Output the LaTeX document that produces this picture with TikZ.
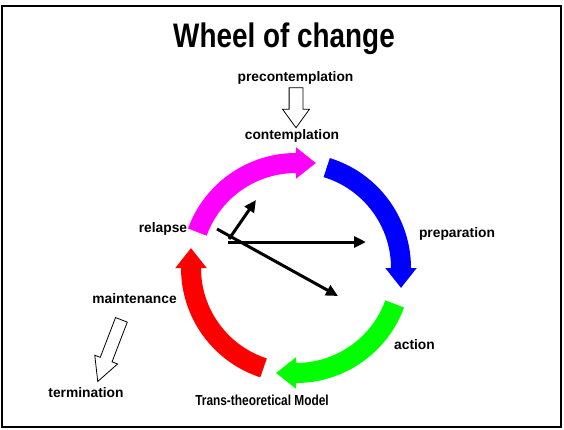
\documentclass[tikz,border=0pt]{standalone}
\usepackage{fontspec}
\setmainfont{Liberation Sans}
\newfontfamily\narrowfont[FakeStretch=0.82]{Liberation Sans}
\usetikzlibrary{arrows.meta,shapes.arrows,positioning}
\definecolor{wheelmagenta}{RGB}{255,0,255}
\definecolor{wheelblue}{RGB}{0,0,255}
\definecolor{wheelgreen}{RGB}{0,255,0}
\definecolor{wheelred}{RGB}{255,0,0}

\begin{document}
\begin{tikzpicture}[x=1pt,y=1pt,
                stagelabel/.style={font=\fontsize{13.8}{16}\selectfont\bfseries, inner sep=0pt, anchor=base},
                wheelarc/.style={line width=20pt, -{Triangle[width=30pt,length=20pt]}},
                pointer/.style={line width=3pt, -{Triangle[width=11pt,length=12pt]}},
                hollowarrow/.style={single arrow, draw, line width=0.8pt, inner xsep=0pt}]
                \useasboundingbox (0,0) rectangle (564,-429);
                \draw [black, line width=2pt] (2,-6) rectangle (561,-427);
                % title
                \node [anchor=base, inner sep=0pt, font=\narrowfont\fontsize{34}{38}\selectfont\bfseries] (title) at (284,-47) {Wheel of change};
                % stages
                \node [stagelabel] (precon) at (295.5,-81) {precontemplation};
                \node [stagelabel] (contem) at (292,-139) {contemplation};
                \node [stagelabel] (prep) at (457,-237) {preparation};
                \node [stagelabel] (action) at (414.5,-349) {action};
                \node [stagelabel] (relapse) at (163,-232) {relapse};
                \node [stagelabel] (maint) at (134.5,-303) {maintenance};
                \node [stagelabel] (term) at (86,-397) {termination};
                \node [anchor=base, inner sep=0pt, font=\narrowfont\fontsize{14.5}{16}\selectfont\bfseries] (model) at (262,-405) {Trans-theoretical Model};
                % the wheel
                \draw [wheelarc, wheelmagenta] (296,-268) ++(160:105) arc (160:90:105) -- ++(20,0);
                \draw [wheelarc, wheelblue] (296,-268) ++(73:105) arc (73:0:105) -- ++(0,-20);
                \draw [wheelarc, wheelgreen] (296,-268) ++(-20:105) arc (-20:-90:105) -- ++(-20,0);
                \draw [wheelarc, wheelred] (296,-268) ++(-108:105) arc (-108:-180:105) -- ++(0,20);
                % arrows in the middle
                \coordinate (hubA) at (228,-242);
                \coordinate (hubB) at (217,-229);
                \coordinate (hubC) at (229,-239);
                \coordinate (tipA) at (366,-242);
                \coordinate (tipB) at (338,-296);
                \coordinate (tipC) at (256,-200);
                \draw [pointer] (hubA) -- (tipA);
                \draw [pointer] (hubB) -- (tipB);
                \draw [pointer] (hubC) -- (tipC);
                % hollow arrows
                \node [hollowarrow, rotate=-90, inner ysep=6.5pt, minimum height=40pt, single arrow head extend=6.5pt, single arrow tip angle=72] (precarrow) at (296,-103) {};
                \node [hollowarrow, rotate=249, inner ysep=5.9pt, minimum height=66pt, single arrow head extend=5.9pt, single arrow tip angle=55] (maintarrow) at (111.75,-345) {};
\end{tikzpicture}
\end{document}
